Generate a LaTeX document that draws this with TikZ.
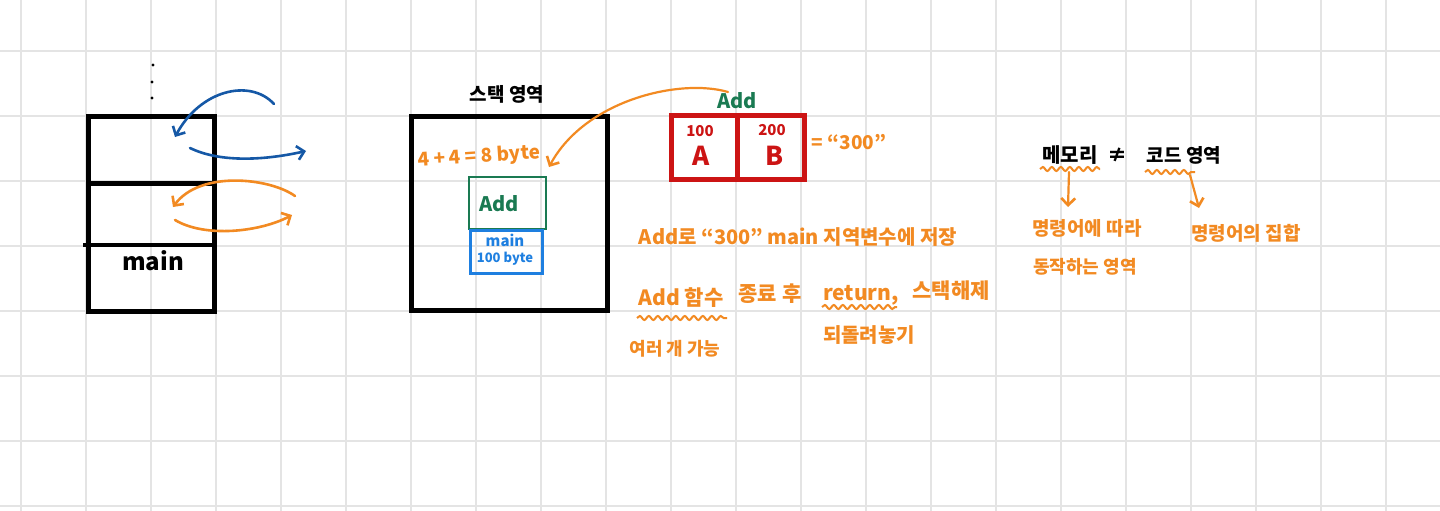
\documentclass[tikz,border=0pt]{standalone}
\usepackage{fontspec}
\setmainfont{Noto Sans CJK KR}
\usetikzlibrary{arrows.meta,decorations.pathmorphing}
\definecolor{gridc}{HTML}{E4E4E4}
\definecolor{org}{HTML}{F28A22}
\definecolor{darkblue}{HTML}{1558A6}
\definecolor{brightblue}{HTML}{1E7FE0}
\definecolor{grn}{HTML}{1A7A52}
\definecolor{redc}{HTML}{CC1414}
\tikzset{
  gridline/.style={draw=gridc, line width=1.6pt},
  thickbox/.style={draw=black, line width=5pt, line join=miter},
  handarrow/.style={line width=2.6pt, line cap=round, -{Straight Barb[length=7pt,width=14pt,line width=2.6pt]}},
  txt/.style={inner sep=0pt, anchor=center},
  wave/.style={draw=org, line width=2pt, decorate, decoration={snake, amplitude=2pt, segment length=9pt}},
}
\newcommand{\fs}[1]{\fontsize{#1}{#1}\selectfont\bfseries}
\begin{document}
\begin{tikzpicture}[x=1pt,y=-1pt]
\useasboundingbox (0,0) rectangle (1440,511);
\fill[white] (0,0) rectangle (1440,511);
% grid
\foreach \i in {0,...,21} \draw[gridline] ({21+65*\i},0) -- ({21+65*\i},511);
\foreach \j in {0,...,7} \draw[gridline] (0,{51+65*\j}) -- (1440,{51+65*\j});

% ---------- left stack ----------
\fill (153,65) circle (1.7pt);
\fill (152,82) circle (1.7pt);
\fill (152,98) circle (1.7pt);
\draw[thickbox] (88,116) rectangle (214,311);
\draw[line width=5pt] (88,183) -- (214,183);
\draw[line width=4pt] (83,245) -- (214,245);
\node[txt, font=\fs{24}] (lmain) at (153,261) {main};

\coordinate (b1s) at (274,104);
\coordinate (b1e) at (175,137);
\coordinate (b2s) at (190,148);
\coordinate (b2e) at (306,151);
\draw[handarrow, darkblue] (b1s) .. controls (250,78) and (200,90) .. (b1e);
\draw[handarrow, darkblue] (b2s) .. controls (225,165) and (275,158) .. (b2e);
\coordinate (o1s) at (295,196);
\coordinate (o1e) at (173,207);
\coordinate (o2s) at (175,220);
\coordinate (o2e) at (292,215);
\draw[handarrow, org] (o1s) .. controls (270,178) and (200,170) .. (o1e);
\draw[handarrow, org] (o2s) .. controls (205,238) and (260,232) .. (o2e);

% ---------- stack area ----------
\node[txt, font=\fs{19}] (title) at (507,94) {스택 영역};
\draw[thickbox] (411,116) rectangle (607,310);
\node[txt, font=\fs{19}, text=org, rotate=4] (eight) at (479,157) {4 + 4 = 8 byte};
\node[draw=grn, line width=2.6pt, minimum width=77pt, minimum height=52pt, inner sep=0pt] (addbox) at (507.5,203) {};
\node[txt, font=\fs{20}, text=grn] (addt) at (499,204) {Add};
\node[draw=brightblue, line width=2.6pt, minimum width=72pt, minimum height=43pt, inner sep=0pt, anchor=north west] (mainbox) at (469,229) {};
\node[txt, font=\fs{15}, text=brightblue] at (505,240) {main};
\node[txt, font=\fs{13}, text=brightblue] at (505,259) {100 byte};

% ---------- Add call box ----------
\node[txt, font=\fs{20}, text=grn] (addlbl) at (737,101) {Add};
\draw[line width=5pt, draw=redc] (671,115) rectangle (804,179);
\draw[line width=5pt, draw=redc] (737,115) -- (737,179);
\node[txt, font=\fs{15}, text=redc] (n100) at (700,131) {100};
\node[txt, font=\fs{26}, text=redc] (na) at (701,156) {A};
\node[txt, font=\fs{15}, text=redc] (n200) at (772,130) {200};
\node[txt, font=\fs{26}, text=redc] (nb) at (775,156) {B};
\node[txt, font=\fs{19}, text=org] (eq300) at (849,142) {= “300”};
\coordinate (cs) at (728,92);
\coordinate (ce) at (549,167);
\draw[handarrow, org, line width=2.2pt] (cs) .. controls (680,78) and (585,100) .. (ce);

% ---------- orange notes ----------
\node[txt, font=\fs{20}, text=org] (note1) at (798,237) {Add로 “300” main 지역변수에 저장};
\node[txt, font=\fs{21}, text=org] (addfn) at (681,298) {Add 함수};
\draw[wave] (637,318) -- (727,318);
\node[txt, font=\fs{21}, text=org] (end) at (770,294) {종료 후};
\node[txt, font=\fs{21}, text=org] (ret) at (861,295) {return,};
\draw[wave] (822,307) -- (897,307);
\node[txt, font=\fs{21}, text=org] (free) at (951,291) {스택해제};
\node[txt, font=\fs{20}, text=org] (restore) at (869,335) {되돌려놓기};
\node[txt, font=\fs{18}, text=org] (multi) at (675,349) {여러 개 가능};

% ---------- memory vs code ----------
\node[txt, font=\fs{20}] (mem) at (1070,155) {메모리};
\node[txt, font=\fs{20}] (neq) at (1117,155) {≠};
\node[txt, font=\fs{19}] (code) at (1184,155) {코드 영역};
\draw[wave] (1040,169) -- (1100,169);
\draw[wave] (1145,172) -- (1195,172);
\coordinate (m1) at (1069,172);
\coordinate (c1) at (1190,175);
\node[txt, font=\fs{19}, text=org] (memd1) at (1087,228) {명령어에 따라};
\node[txt, font=\fs{18}, text=org] (memd2) at (1085,267) {동작하는 영역};
\node[txt, font=\fs{19}, text=org] (coded) at (1246,233) {명령어의 집합};
\draw[handarrow, org, line width=2.2pt] (m1) -- (1068,207);
\draw[handarrow, org, line width=2.2pt] (c1) -- (1199,208);
\end{tikzpicture}
\end{document}
